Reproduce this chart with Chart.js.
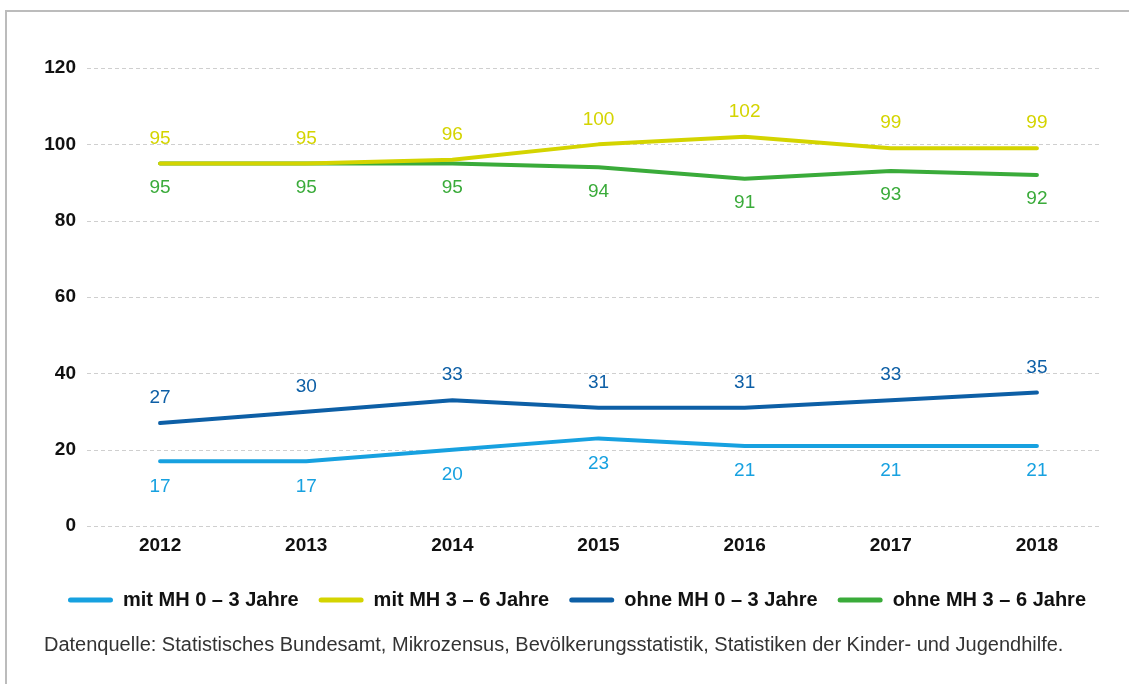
<!DOCTYPE html>
<html lang="de">
<head>
<meta charset="utf-8">
<title>Betreuungsquoten nach Migrationshintergrund</title>
<script src="https://cdn.jsdelivr.net/npm/chart.js@4"></script>
<style>
  html, body { margin: 0; padding: 0; background: #fff; }
  body { width: 1129px; height: 684px; position: relative; overflow: hidden; }
  /* thin frame along the top and left edge */
  #frame {
    position: absolute; left: 5px; top: 10px; right: -10px; bottom: -10px;
    border-top: 2px solid #bcbcbc; border-left: 2px solid #bcbcbc;
  }
  #wrap { position: absolute; left: 0; top: 0; width: 1129px; height: 684px; }
</style>
</head>
<body>
<div id="frame"></div>
<div id="wrap"><canvas id="lineChart"></canvas></div>
<script>
// Jahre und Werte je Gruppe
const years = ['2012', '2013', '2014', '2015', '2016', '2017', '2018'];
const mitMH0bis3   = [17, 17, 20, 23, 21, 21, 21];
const mitMH3bis6   = [95, 95, 96, 100, 102, 99, 99];
const ohneMH0bis3  = [27, 30, 33, 31, 31, 33, 35];
const ohneMH3bis6  = [95, 95, 95, 94, 91, 93, 92];
const yTicks = [0, 20, 40, 60, 80, 100, 120];

const FONT = '"Liberation Sans", Arial, Helvetica, sans-serif';

// gestrichelte Hilfslinien, rechts etwas kürzer als die Zeichenfläche
const dashedGrid = {
    id: 'dashedGrid',
    beforeDatasetsDraw(chart) {
        const { ctx, chartArea, scales } = chart;
        ctx.save();
        ctx.strokeStyle = '#cfcfcf';
        ctx.lineWidth = 1;
        ctx.setLineDash([4, 3]);
        scales.y.ticks.forEach(t => {
            const y = Math.round(scales.y.getPixelForValue(t.value)) + 0.5;
            ctx.beginPath();
            ctx.moveTo(chartArea.left, y);
            ctx.lineTo(chartArea.right - 9, y);
            ctx.stroke();
        });
        ctx.restore();
    }
};

// Werte als Text ober- bzw. unterhalb der Linie
const valueLabels = {
    id: 'valueLabels',
    afterDatasetsDraw(chart) {
        const ctx = chart.ctx;
        ctx.save();
        ctx.font = '19px ' + FONT;
        ctx.textAlign = 'center';
        ctx.textBaseline = 'middle';
        chart.data.datasets.forEach((ds, i) => {
            const meta = chart.getDatasetMeta(i);
            ctx.fillStyle = ds.borderColor;
            meta.data.forEach((pt, j) => {
                ctx.fillText(String(ds.data[j]), pt.x, pt.y + ds.labelOffset);
            });
        });
        ctx.restore();
    }
};

function series(label, values, color, offset) {
    return {
        label: label,
        data: values,
        borderColor: color,
        backgroundColor: color,
        borderWidth: 4,
        borderCapStyle: 'round',
        borderJoinStyle: 'round',
        pointRadius: 0,
        pointHoverRadius: 0,
        tension: 0,
        fill: false,
        labelOffset: offset
    };
}

const lineChart = document.getElementById('lineChart');

const myChart = new Chart(lineChart, {
    type: 'line',
    data: {
        labels: years,
        datasets: [
            series('mit MH 0 – 3 Jahre',  mitMH0bis3,  '#17a1e0', 25),
            series('mit MH 3 – 6 Jahre',  mitMH3bis6,  '#d4d400', -25),
            series('ohne MH 0 – 3 Jahre', ohneMH0bis3, '#0d5fa6', -25),
            series('ohne MH 3 – 6 Jahre', ohneMH3bis6, '#3aab3a', 24)
        ]
    },
    options: {
        responsive: true,
        maintainAspectRatio: false,
        animation: false,
        events: [],
        layout: {
            padding: { top: 68, left: 44, right: 19, bottom: 0 }
        },
        scales: {
            x: {
                offset: true,
                afterFit(axis) {
                    axis.height += 5;       // a bit more room above the legend
                },
                grid: { display: false, drawTicks: false },
                border: { display: false },
                ticks: {
                    padding: 8,
                    color: '#111',
                    font: { family: FONT, size: 19, weight: 'bold' }
                }
            },
            y: {
                min: 0,
                max: 120,
                afterBuildTicks(axis) {
                    axis.ticks = yTicks.map(v => ({ value: v }));
                },
                afterFit(axis) {
                    axis.width = 43;
                },
                grid: { display: false, drawTicks: false },
                border: { display: false },
                ticks: {
                    padding: 11,
                    color: '#111',
                    font: { family: FONT, size: 19, weight: 'bold' }
                }
            }
        },
        plugins: {
            tooltip: { enabled: false },
            legend: {
                position: 'bottom',
                labels: {
                    boxWidth: 45,
                    boxHeight: 5,
                    padding: 20,
                    color: '#111',
                    font: { family: FONT, size: 20, weight: 'bold' },
                    generateLabels(chart) {
                        return Chart.defaults.plugins.legend.labels.generateLabels(chart).map(item => ({
                            ...item,
                            fillStyle: item.strokeStyle,
                            lineWidth: 0,
                            borderRadius: 2.5
                        }));
                    }
                }
            },
            title: {
                display: true,
                position: 'bottom',
                align: 'start',
                text: 'Datenquelle: Statistisches Bundesamt, Mikrozensus, Bevölkerungsstatistik, Statistiken der Kinder- und Jugendhilfe.',
                color: '#333',
                font: { family: FONT, size: 20, weight: 'normal' },
                padding: { top: 13, bottom: 27 }
            }
        }
    },
    plugins: [dashedGrid, valueLabels]
});
</script>
</body>
</html>
